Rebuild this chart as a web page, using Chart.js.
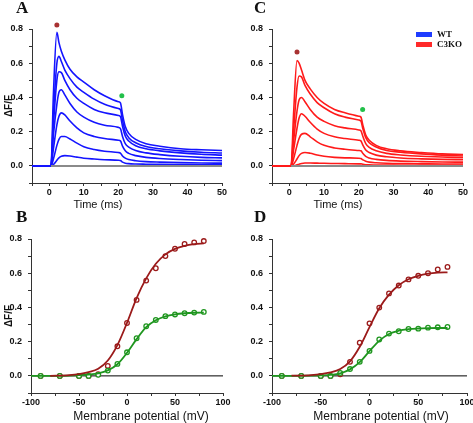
<!DOCTYPE html>
<html>
<head>
<meta charset="utf-8">
<script src="https://cdn.jsdelivr.net/npm/chart.js@4.4.0/dist/chart.umd.min.js"></script>
<style>
  body { margin: 0; background: #fff; }
  #wrap { position: relative; width: 473px; height: 423px; overflow: hidden; background: #fff; }
  canvas { position: absolute; }
  .lbl { position: absolute; font-family: 'Liberation Sans', Arial, sans-serif; color: #111; white-space: nowrap; transform: translate(-50%, -50%); }
  .panel { position: absolute; font-family: 'Liberation Serif', 'Times New Roman', serif; font-weight: bold; font-size: 17px; line-height: 17px; color: #111; }
  .leg { position: absolute; font-family: 'Liberation Serif', 'Times New Roman', serif; font-weight: bold; font-size: 9px; line-height: 9px; color: #111; }
  .sw { position: absolute; width: 16px; height: 5px; }
</style>
</head>
<body>
<div id="wrap">
  <canvas id="chartA" width="240" height="212" style="left:0;top:0"></canvas>
  <canvas id="chartC" width="240" height="212" style="left:240px;top:0"></canvas>
  <canvas id="chartB" width="240" height="211" style="left:0;top:212px"></canvas>
  <canvas id="chartD" width="240" height="211" style="left:240px;top:212px"></canvas>

  <div class="panel" style="left:16px;top:-1px">A</div>
  <div class="panel" style="left:254px;top:-1px">C</div>
  <div class="panel" style="left:16px;top:208px">B</div>
  <div class="panel" style="left:254px;top:208px">D</div>

  <div class="lbl" style="left:98px;top:204px;font-size:11px">Time (ms)</div>
  <div class="lbl" style="left:338px;top:204px;font-size:11px">Time (ms)</div>
  <div class="lbl" style="left:141px;top:416px;font-size:12px">Membrane potential (mV)</div>
  <div class="lbl" style="left:381px;top:416px;font-size:12px">Membrane potential (mV)</div>

  <div class="sw" style="left:416px;top:32px;background:#1f3cff"></div>
  <div class="sw" style="left:416px;top:42px;background:#ff2a2a"></div>
  <div class="leg" style="left:437px;top:30px">WT</div>
  <div class="leg" style="left:437px;top:40px">C3KO</div>
</div>

<script>
// time grid (ms) shared by all fluorescence traces
const timeMs = [-5, 0.5, 1.2, 2.2, 2.8, 3.5, 4.5, 6, 8, 10, 13, 16, 20, 20.6, 21.2, 22, 23, 25, 28, 32, 38, 44, 50];

// WT traces (panel A), largest to smallest
const wt1 = [0, 0, 0.42, 0.78, 0.72, 0.67, 0.62, 0.565, 0.52, 0.49, 0.445, 0.41, 0.375, 0.368, 0.30, 0.23, 0.19, 0.155, 0.13, 0.115, 0.10, 0.094, 0.09];
const wt2 = [0, 0, 0.30, 0.60, 0.64, 0.61, 0.56, 0.51, 0.46, 0.43, 0.39, 0.36, 0.335, 0.328, 0.265, 0.20, 0.165, 0.135, 0.113, 0.10, 0.088, 0.08, 0.075];
const wt3 = [0, 0, 0.24, 0.50, 0.55, 0.545, 0.50, 0.445, 0.395, 0.365, 0.33, 0.31, 0.295, 0.288, 0.232, 0.175, 0.145, 0.118, 0.10, 0.088, 0.076, 0.068, 0.063];
const wt4 = [0, 0, 0.18, 0.36, 0.43, 0.445, 0.415, 0.365, 0.315, 0.285, 0.255, 0.238, 0.225, 0.218, 0.172, 0.13, 0.11, 0.09, 0.076, 0.066, 0.056, 0.05, 0.047];
const wt5 = [0, 0, 0.10, 0.24, 0.29, 0.31, 0.298, 0.262, 0.222, 0.193, 0.172, 0.16, 0.15, 0.146, 0.115, 0.088, 0.073, 0.06, 0.05, 0.043, 0.037, 0.033, 0.031];
const wt6 = [0, 0, 0.04, 0.12, 0.155, 0.172, 0.172, 0.157, 0.133, 0.112, 0.096, 0.086, 0.078, 0.075, 0.058, 0.045, 0.037, 0.03, 0.025, 0.022, 0.019, 0.017, 0.016];
const wt7 = [0, 0, 0.008, 0.033, 0.047, 0.056, 0.06, 0.058, 0.051, 0.045, 0.04, 0.036, 0.033, 0.031, 0.022, 0.016, 0.013, 0.011, 0.01, 0.009, 0.008, 0.007, 0.007];

// C3KO traces (panel C)
const ko1 = [0, 0, 0.30, 0.615, 0.60, 0.56, 0.50, 0.45, 0.40, 0.365, 0.33, 0.31, 0.29, 0.285, 0.235, 0.18, 0.15, 0.12, 0.10, 0.088, 0.078, 0.07, 0.066];
const ko2 = [0, 0, 0.20, 0.46, 0.525, 0.52, 0.47, 0.42, 0.37, 0.34, 0.305, 0.285, 0.268, 0.262, 0.215, 0.165, 0.135, 0.11, 0.09, 0.08, 0.07, 0.063, 0.058];
const ko3 = [0, 0, 0.14, 0.32, 0.385, 0.40, 0.375, 0.33, 0.285, 0.26, 0.235, 0.222, 0.21, 0.205, 0.17, 0.13, 0.108, 0.088, 0.073, 0.064, 0.056, 0.052, 0.048];
const ko4 = [0, 0, 0.09, 0.22, 0.28, 0.305, 0.29, 0.255, 0.215, 0.19, 0.17, 0.16, 0.15, 0.146, 0.12, 0.093, 0.078, 0.063, 0.053, 0.046, 0.041, 0.038, 0.036];
const ko5 = [0, 0, 0.04, 0.12, 0.16, 0.185, 0.19, 0.17, 0.14, 0.12, 0.105, 0.097, 0.09, 0.088, 0.072, 0.055, 0.046, 0.038, 0.032, 0.028, 0.025, 0.023, 0.022];
const ko6 = [0, 0, 0.01, 0.04, 0.06, 0.073, 0.078, 0.074, 0.064, 0.056, 0.05, 0.047, 0.045, 0.043, 0.035, 0.027, 0.022, 0.018, 0.015, 0.013, 0.012, 0.011, 0.011];
const ko7 = [0, 0, 0, 0.006, 0.01, 0.014, 0.017, 0.017, 0.016, 0.015, 0.014, 0.013, 0.012, 0.012, 0.009, 0.007, 0.006, 0.005, 0.005, 0.004, 0.004, 0.004, 0.004];

// baseline trace and the two marker dots (peak, end of pulse)
const baseT = [0.5, 50];
const baseY = [0, 0];
const wtPeakDot = [2.2, 0.823];
const wtEndDot = [21, 0.41];
const koPeakDot = [2.2, 0.666];
const koEndDot = [21.1, 0.33];

// voltage dependence (panels B and D)
const voltages = [-90, -70, -50, -40, -30, -20, -10, 0, 10, 20, 30, 40, 50, 60, 70, 80];
const wtPeak = [0, 0, 0, 0, 0.01, 0.058, 0.173, 0.309, 0.444, 0.557, 0.629, 0.70, 0.743, 0.771, 0.78, 0.788];
const wtEnd = [0, 0, 0, 0, 0.006, 0.031, 0.07, 0.138, 0.22, 0.29, 0.327, 0.349, 0.359, 0.366, 0.37, 0.374];
const koPeak = [0, 0, 0, 0, 0.01, 0.082, 0.194, 0.307, 0.399, 0.482, 0.528, 0.564, 0.585, 0.60, 0.622, 0.637];
const koEnd = [0, 0, 0, 0, 0.017, 0.04, 0.082, 0.146, 0.213, 0.247, 0.261, 0.274, 0.276, 0.282, 0.284, 0.286];

// fitted curves
const fitV = [-100, -80, -60, -50, -40, -30, -20, -10, 0, 10, 20, 30, 40, 50, 60, 70, 80];
const wtPeakFit = [null, 0.0, 0.004, 0.01, 0.022, 0.042, 0.09, 0.18, 0.31, 0.455, 0.57, 0.655, 0.71, 0.742, 0.76, 0.77, 0.775];
const wtEndFit = [0, 0.0005, 0.002, 0.004, 0.008, 0.015, 0.032, 0.068, 0.135, 0.215, 0.285, 0.325, 0.348, 0.36, 0.366, 0.369, 0.37];
const koPeakFit = [null, 0.001, 0.005, 0.01, 0.02, 0.04, 0.085, 0.17, 0.285, 0.395, 0.475, 0.53, 0.565, 0.585, 0.597, 0.603, 0.605];
const koEndFit = [0, 0.0005, 0.002, 0.003, 0.006, 0.015, 0.038, 0.08, 0.145, 0.205, 0.245, 0.264, 0.273, 0.277, 0.279, 0.28, 0.28];
const zeroV = [-100, 100];
const zeroY = [0, 0];

const BLUE = '#1414ff';
const RED = '#ff1a1a';
const DARKRED = '#9b1a1a';
const GREEN = '#1f961f';
const TICK_FONT = { family: "'Liberation Sans', Arial, sans-serif", size: 9, weight: 'bold' };

function xy(xs, ys) {
  return xs.map((x, i) => ({ x: x, y: ys[i] }));
}

function trace(ys, color) {
  return {
    data: xy(timeMs, ys),
    borderColor: color,
    borderWidth: 1.6,
    pointRadius: 0,
    cubicInterpolationMode: 'monotone',
    fill: false
  };
}

function dot(p, color) {
  return {
    data: [{ x: p[0], y: p[1] }],
    showLine: false,
    pointRadius: 2.5,
    pointBorderWidth: 0,
    pointBackgroundColor: color,
    clip: false
  };
}

function fitLine(ys, color) {
  return {
    data: xy(fitV, ys),
    borderColor: color,
    borderWidth: 1.8,
    pointRadius: 0,
    cubicInterpolationMode: 'monotone',
    spanGaps: false,
    fill: false
  };
}

function markers(ys, color) {
  return {
    data: xy(voltages, ys),
    showLine: false,
    pointRadius: 2.3,
    pointBorderWidth: 1.3,
    pointBorderColor: color,
    pointBackgroundColor: '#fff',
    clip: false
  };
}

function labelEvery(step) {
  return function(value) {
    const r = Math.round(value);
    return r % step === 0 ? String(r) : '';
  };
}

function makePanel(id, datasets, cfg) {
  const ctx = document.getElementById(id).getContext('2d');
  new Chart(ctx, {
    type: 'line',
    data: { datasets: datasets },
    options: {
      responsive: false,
      animation: false,
      layout: { padding: { top: cfg.padTop, right: cfg.padRight, left: 0, bottom: 0 } },
      plugins: {
        legend: { display: false },
        tooltip: { enabled: false }
      },
      scales: {
        x: {
          type: 'linear',
          min: cfg.xMin,
          max: cfg.xMax,
          afterFit: function(scale) { scale.height = cfg.xH; },
          ticks: {
            stepSize: cfg.xStep,
            autoSkip: false,
            maxRotation: 0,
            padding: 1,
            color: '#111',
            font: TICK_FONT,
            callback: labelEvery(cfg.xLabelStep)
          },
          grid: { drawOnChartArea: false, tickLength: 3, tickColor: '#333' },
          border: { color: '#333', width: 1 }
        },
        y: {
          min: -0.1,
          max: 0.8,
          afterFit: function(scale) { scale.width = cfg.yW; },
          ticks: {
            stepSize: 0.1,
            autoSkip: false,
            padding: 6,
            color: '#111',
            font: TICK_FONT,
            callback: function(value) {
              const r = Math.round(value * 10);
              return r % 2 === 0 ? (r / 10).toFixed(1) : '';
            }
          },
          grid: { drawOnChartArea: false, tickLength: 3, tickColor: '#333' },
          border: { color: '#333', width: 1 },
          title: {
            display: cfg.yTitle,
            text: 'ΔF/F',
            color: '#111',
            padding: { top: 3, bottom: 0 },
            font: { family: "'Liberation Sans', Arial, sans-serif", size: 10, weight: 'bold' }
          }
        }
      }
    }
  });
}

document.addEventListener('DOMContentLoaded', () => {
  const timeCfg = { xMin: -5, xMax: 50, xStep: 5, xLabelStep: 10, xH: 29, padTop: 29, padRight: 18, yW: 32 };
  const voltCfg = { xMin: -100, xMax: 100, xStep: 25, xLabelStep: 50, xH: 30, padTop: 27, padRight: 17, yW: 31 };

  makePanel('chartA', [
    dot(wtPeakDot, '#a83232'),
    dot(wtEndDot, '#22c04a'),
    { data: xy(baseT, baseY), borderColor: '#8a8a8a', borderWidth: 2, pointRadius: 0, fill: false },
    trace(wt1, BLUE), trace(wt2, BLUE), trace(wt3, BLUE), trace(wt4, BLUE),
    trace(wt5, BLUE), trace(wt6, BLUE), trace(wt7, BLUE)
  ], Object.assign({}, timeCfg, { yTitle: true }));

  makePanel('chartC', [
    dot(koPeakDot, '#a83232'),
    dot(koEndDot, '#22c04a'),
    { data: xy(baseT, baseY), borderColor: '#8a8a8a', borderWidth: 2, pointRadius: 0, fill: false },
    trace(ko1, RED), trace(ko2, RED), trace(ko3, RED), trace(ko4, RED),
    trace(ko5, RED), trace(ko6, RED), trace(ko7, RED)
  ], Object.assign({}, timeCfg, { yTitle: false, padRight: 17 }));

  makePanel('chartB', [
    fitLine(wtPeakFit, DARKRED),
    fitLine(wtEndFit, GREEN),
    markers(wtEnd, GREEN),
    markers(wtPeak, DARKRED),
    { data: xy(zeroV, zeroY), borderColor: '#000', borderWidth: 1, pointRadius: 0, fill: false }
  ], Object.assign({}, voltCfg, { yTitle: true }));

  makePanel('chartD', [
    fitLine(koPeakFit, DARKRED),
    fitLine(koEndFit, GREEN),
    markers(koEnd, GREEN),
    markers(koPeak, DARKRED),
    { data: xy(zeroV, zeroY), borderColor: '#000', borderWidth: 1, pointRadius: 0, fill: false }
  ], Object.assign({}, voltCfg, { yTitle: false, yW: 32, padRight: 13 }));
});
</script>
</body>
</html>
